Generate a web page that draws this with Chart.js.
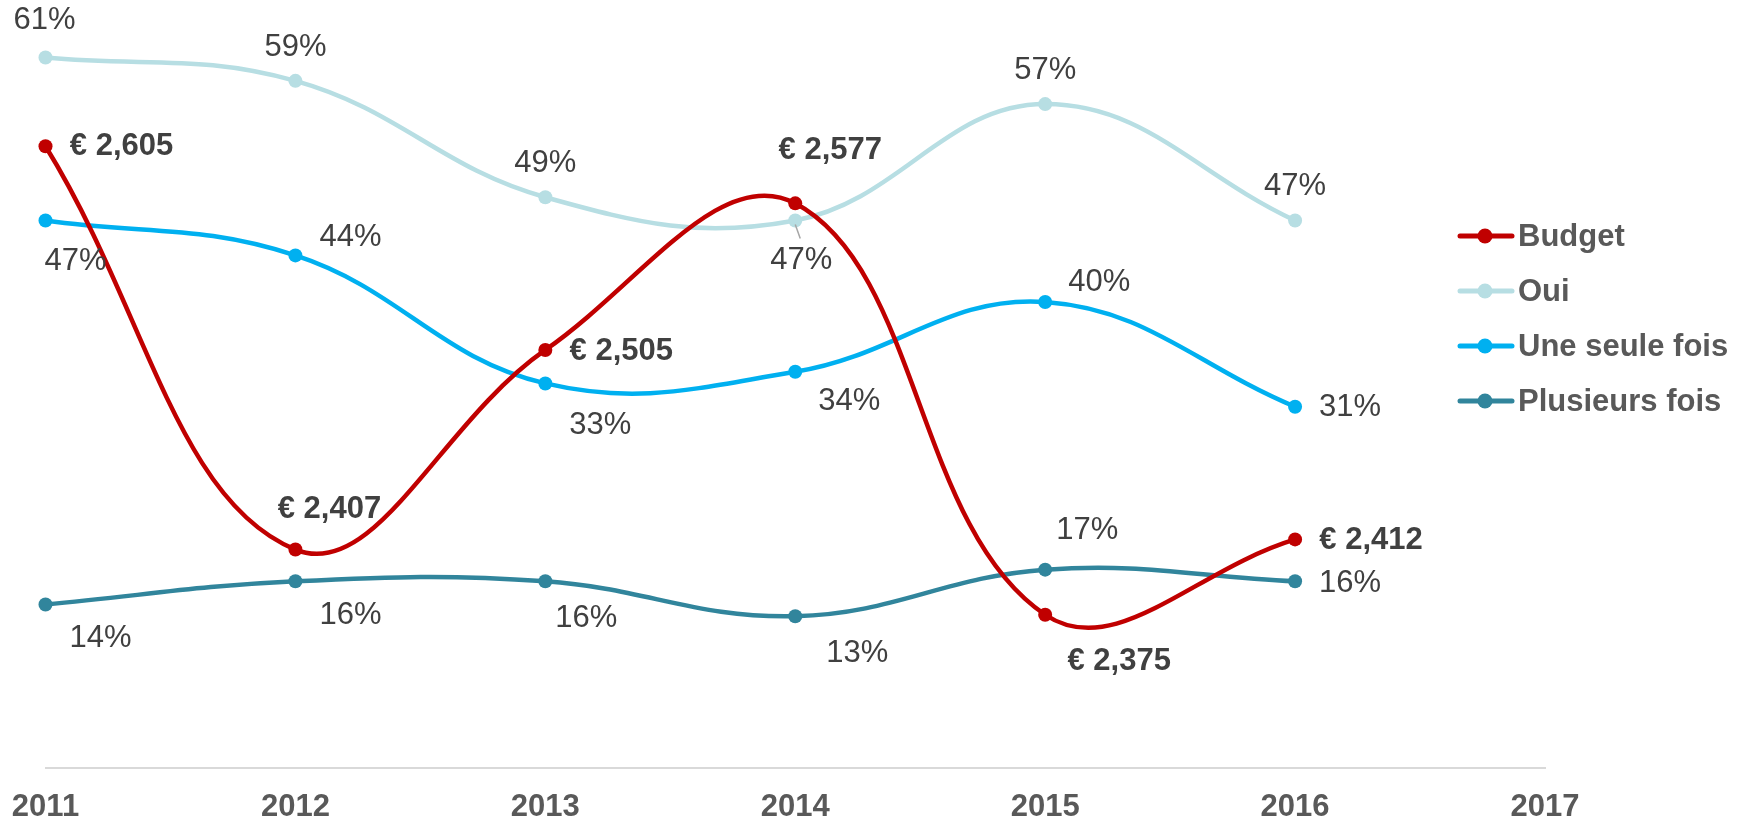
<!DOCTYPE html>
<html>
<head>
<meta charset="utf-8">
<script src="https://cdn.jsdelivr.net/npm/chart.js@4/dist/chart.umd.min.js"></script>
<style>
  html, body { margin: 0; padding: 0; background: #fff; }
  #wrap { width: 1738px; height: 818px; }
</style>
</head>
<body>
<div id="wrap"><canvas id="chart" width="1738" height="818"></canvas></div>
<script>
const years = ["2011", "2012", "2013", "2014", "2015", "2016", "2017"];
const budget = [2605, 2407, 2505, 2577, 2375, 2412];
const oui = [61, 59, 49, 47, 57, 47];
const uneSeuleFois = [47, 44, 33, 34, 40, 31];
const plusieursFois = [14, 16, 16, 13, 17, 16];

// where each value label sits, relative to its point (px)
const budgetLabelPos = [[76, 0], [34, -40], [76, 1], [35, -53], [74, 47], [76, 1]];
const ouiLabelPos = [[-1, -37], [0, -33], [0, -34], [6, 40], [0, -34], [0, -34]];
const uneLabelPos = [[30, 41], [55, -18], [55, 42], [54, 30], [54, -20], [55, 1]];
const plusLabelPos = [[55, 34], [55, 34], [41, 37], [62, 37], [42, -39], [55, 2]];

const font = "'Liberation Sans', Arial, sans-serif";
const budgetMax = 2300 + 400 * 65 / 70;

const fmtEuro = v => "€ " + v.toLocaleString("en-US");
const fmtPct = v => v + "%";

const series = [
  { label: "Budget", data: budget, color: "#C00000", axis: "y1", pos: budgetLabelPos, fmt: fmtEuro, bold: true },
  { label: "Oui", data: oui, color: "#B7DEE3", axis: "y", pos: ouiLabelPos, fmt: fmtPct },
  { label: "Une seule fois", data: uneSeuleFois, color: "#00B0F0", axis: "y", pos: uneLabelPos, fmt: fmtPct },
  { label: "Plusieurs fois", data: plusieursFois, color: "#31859C", axis: "y", pos: plusLabelPos, fmt: fmtPct }
];

const labelsPlugin = {
  id: "valueLabels",
  afterDatasetsDraw(chart) {
    const ctx = chart.ctx;
    ctx.save();
    ctx.textAlign = "center";
    ctx.textBaseline = "middle";
    series.forEach((s, i) => {
      const meta = chart.getDatasetMeta(i);
      ctx.font = (s.bold ? "bold " : "") + "31px " + font;
      ctx.fillStyle = "#404040";
      meta.data.forEach((pt, j) => {
        const [dx, dy] = s.pos[j];
        ctx.fillText(s.fmt(s.data[j]), pt.x + dx, pt.y + dy);
      });
    });
    // small leader line for the 2014 "Oui" label
    const p = chart.getDatasetMeta(1).data[3];
    ctx.strokeStyle = "#A6A6A6";
    ctx.lineWidth = 1.5;
    ctx.beginPath();
    ctx.moveTo(p.x, p.y + 4);
    ctx.lineTo(p.x + 5, p.y + 18);
    ctx.stroke();
    ctx.restore();
  }
};

const legendPlugin = {
  id: "sideLegend",
  afterDraw(chart) {
    const ctx = chart.ctx;
    ctx.save();
    ctx.textAlign = "left";
    ctx.textBaseline = "middle";
    ctx.font = "bold 31px " + font;
    series.forEach((s, i) => {
      const y = 236 + i * 55;
      ctx.strokeStyle = s.color;
      ctx.lineWidth = 5;
      ctx.lineCap = "round";
      ctx.beginPath();
      ctx.moveTo(1460, y);
      ctx.lineTo(1512, y);
      ctx.stroke();
      ctx.fillStyle = s.color;
      ctx.beginPath();
      ctx.arc(1485, y, 7.5, 0, Math.PI * 2);
      ctx.fill();
      ctx.fillStyle = "#595959";
      ctx.fillText(s.label, 1518, y + 1);
    });
    ctx.restore();
  }
};

new Chart(document.getElementById("chart"), {
  type: "line",
  data: {
    labels: years,
    datasets: series.map(s => ({
      label: s.label,
      data: s.data,
      yAxisID: s.axis,
      borderColor: s.color,
      backgroundColor: s.color,
      borderWidth: 4.5,
      pointRadius: 7,
      pointHoverRadius: 7,
      pointBorderWidth: 0,
      tension: 0.4,
      clip: false
    }))
  },
  options: {
    responsive: false,
    animation: false,
    layout: { padding: { left: 45.5, right: 193, top: 11, bottom: -5 } },
    plugins: {
      legend: { display: false },
      tooltip: { enabled: false }
    },
    scales: {
      x: {
        type: "category",
        offset: false,
        // tickLength only used as spacing, grid (and tick marks) hidden
        grid: { display: false, drawTicks: true, tickLength: 24.5 },
        border: { display: true, color: "#D9D9D9", width: 2 },
        ticks: {
          color: "#595959",
          font: { family: font, size: 31, weight: "bold", lineHeight: 1 },
          padding: 0,
          maxRotation: 0,
          autoSkip: false
        }
      },
      y: { display: false, min: 0, max: 65 },
      y1: { display: false, min: 2300, max: budgetMax }
    }
  },
  plugins: [labelsPlugin, legendPlugin]
});
</script>
</body>
</html>
